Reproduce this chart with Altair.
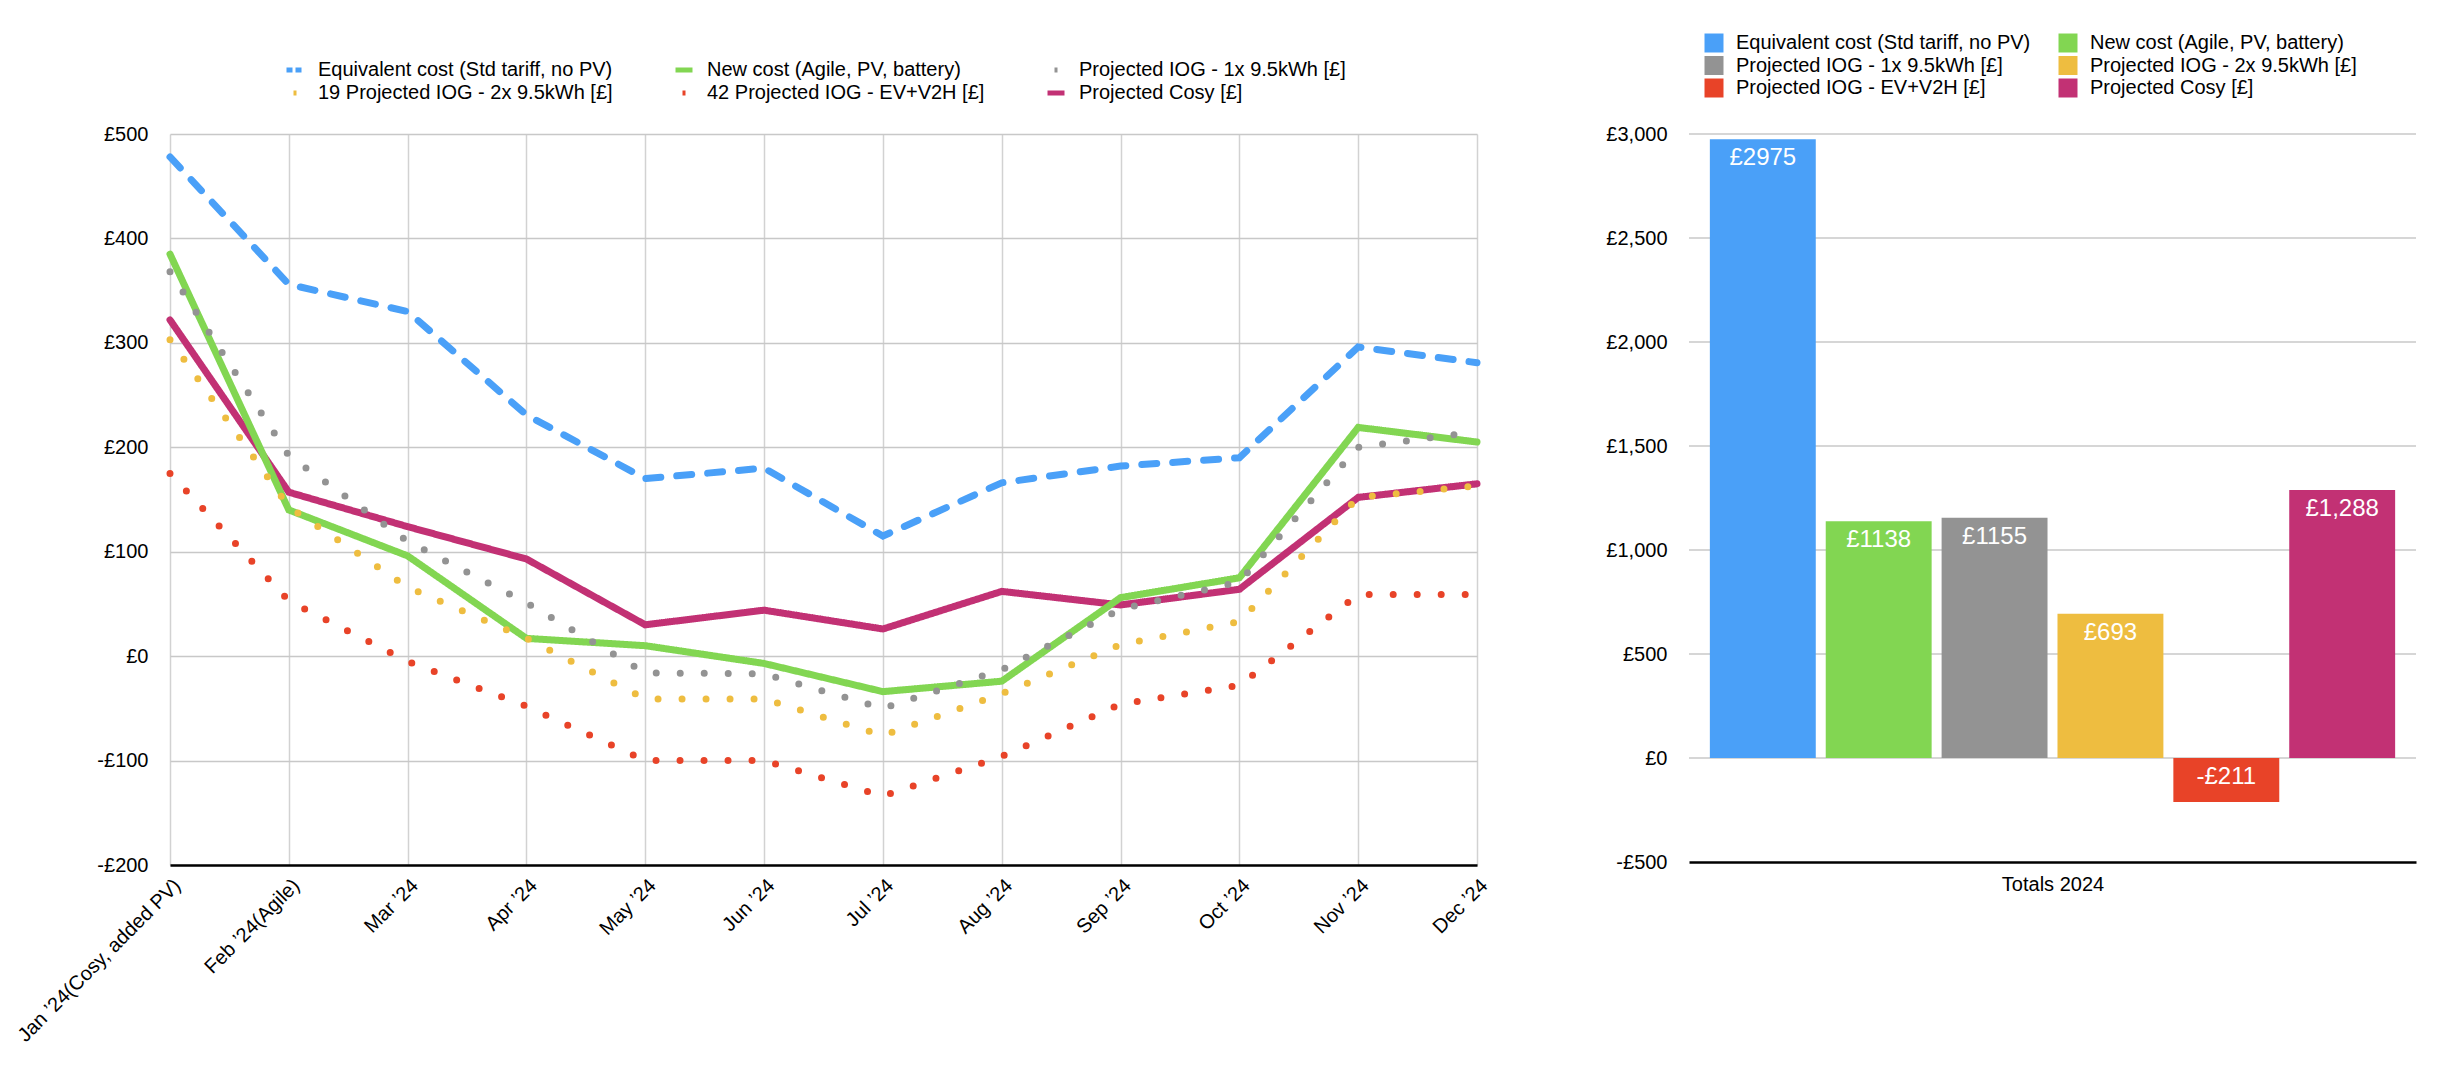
import altair as alt
import pandas as pd

# monthly costs (£)
months = ["Jan ’24(Cosy, added PV)", "Feb ’24(Agile)", "Mar ’24", "Apr ’24", "May ’24", "Jun ’24",
          "Jul ’24", "Aug ’24", "Sep ’24", "Oct ’24", "Nov ’24", "Dec ’24"]
equivalent = [478, 356, 330, 231, 170, 180, 115, 166, 182, 190, 296, 281]
new_cost = [385, 140, 96, 17, 10, -7, -34, -24, 56, 75, 219, 205]
iog_1x = [368, 192, 110, 51, -16, -17, -50, -13, 45, 71, 200, 215]
iog_2x = [303, 143, 66, 17, -41, -41, -76, -36, 11, 33, 152, 163]
iog_ev = [175, 53, -5, -48, -100, -100, -134, -96, -46, -28, 59, 59]
cosy = [322, 157, 124, 93, 30, 44, 26, 62, 49, 64, 152, 165]

line_names = ["Equivalent cost (Std tariff, no PV)", "New cost (Agile, PV, battery)",
              "Projected IOG - 1x 9.5kWh [£]", "19 Projected IOG - 2x 9.5kWh [£]",
              "42 Projected IOG - EV+V2H [£]", "Projected Cosy [£]"]
bar_names = ["Equivalent cost (Std tariff, no PV)", "New cost (Agile, PV, battery)",
             "Projected IOG - 1x 9.5kWh [£]", "Projected IOG - 2x 9.5kWh [£]",
             "Projected IOG - EV+V2H [£]", "Projected Cosy [£]"]
colors = ["#4aa0f8", "#82d652", "#939393", "#eebd40", "#e84328", "#c23174"]
dashes = [[15, 16], [1, 0], [0, 24], [0, 24], [0, 24], [1, 0]]
# legend keys: two short dashes, a solid bar, a single dot
key_dashes = [[6, 3, 6, 60], [1, 0], [0, 7, 3, 60], [0, 7, 3, 60], [0, 7, 3, 60], [1, 0]]

# yearly totals
totals = [2975, 1138, 1155, 693, -211, 1288]
total_labels = ["£2975", "£1138", "£1155", "£693", "-£211", "£1,288"]
bar_ticks = [-500, 0, 500, 1000, 1500, 2000, 2500, 3000]

# legends fill column by column, so list entries in that order
line_legend_order = [0, 3, 1, 4, 2, 5]
bar_legend_order = [0, 2, 4, 1, 3, 5]

FONT = "Liberation Sans"
money = "(datum.value < 0 ? '-£' : '£') + format(abs(datum.value), ',')"

series_values = [equivalent, new_cost, iog_1x, iog_2x, iog_ev, cosy]
draw_order = [0, 5, 1, 2, 3, 4]
rows = []
for i in draw_order:
    for m, v in zip(months, series_values[i]):
        rows.append({"month": m, "series": line_names[i], "cost": v})
df_line = pd.DataFrame(rows)

line_dom = [line_names[i] for i in line_legend_order]
line_col = [colors[i] for i in line_legend_order]

line_legend = alt.Legend(
    title=None, orient="none", legendX=114, legendY=-75, columns=3,
    columnPadding=52, rowPadding=2, padding=0,
    symbolType="stroke", symbolSize=289, symbolStrokeWidth=5,
    labelFont=FONT, labelFontSize=20, labelColor="black", labelLimit=500, labelOffset=12,
)

x_month = alt.X("month:O", sort=months, title=None,
                scale=alt.Scale(type="point", padding=0),
                axis=alt.Axis(labelAngle=-45, labelFontSize=20, labelPadding=10, labelLimit=400,
                              ticks=False, tickSize=0, domainColor="black", domainWidth=2.5,
                              grid=True, gridColor="#d2d2d2", gridWidth=1.5))
y_cost = alt.Y("cost:Q", title=None,
               scale=alt.Scale(domain=[-200, 500], nice=False),
               axis=alt.Axis(values=list(range(-200, 501, 100)), labelExpr=money, labelFontSize=20,
                             labelPadding=22, ticks=False, tickSize=0, domain=False,
                             gridColor="#c8c8c8", gridWidth=1.5))

lines = alt.Chart(df_line).mark_line(strokeWidth=7, strokeCap="round").encode(
    x=x_month,
    y=y_cost,
    stroke=alt.Stroke("series:N", scale=alt.Scale(domain=line_dom, range=line_col), legend=None),
    strokeDash=alt.StrokeDash("series:N",
                              scale=alt.Scale(domain=line_dom,
                                              range=[dashes[i] for i in line_legend_order]),
                              legend=None),
    detail="series:N",
)

# legend carrier: draws nothing, supplies the legend keys
line_key = alt.Chart(df_line).mark_line().encode(
    x=x_month,
    y=y_cost,
    color=alt.Color("series:N", scale=alt.Scale(domain=line_dom, range=line_col), legend=line_legend),
    strokeDash=alt.StrokeDash("series:N",
                              scale=alt.Scale(domain=line_dom,
                                              range=[key_dashes[i] for i in line_legend_order]),
                              legend=line_legend),
).transform_filter("false")

line = alt.layer(lines, line_key).resolve_scale(
    strokeDash="independent", color="independent"
).properties(width=1307, height=731)

df_bar = pd.DataFrame({
    "series": bar_names,
    "total": totals,
    "label": total_labels,
})

bar_legend = alt.Legend(
    title=None, orient="none", legendX=15, legendY=-101, columns=2,
    columnPadding=27, rowPadding=2.5, padding=0,
    symbolType="square", symbolSize=361, symbolStrokeWidth=0,
    labelFont=FONT, labelFontSize=20, labelColor="black", labelLimit=500, labelOffset=12,
)

y_total = alt.Y("total:Q", title=None,
                scale=alt.Scale(domain=[-500, 3000], nice=False),
                axis=alt.Axis(values=bar_ticks, labelExpr=money, labelFontSize=20,
                              labelPadding=22, ticks=False, tickSize=0, domain=False, grid=False))

# horizontal grid across the full panel width
bar_grid = alt.Chart(pd.DataFrame({"total": bar_ticks})).mark_rule(
    color="#c8c8c8", strokeWidth=1.5
).encode(y=y_total).transform_filter("datum.total > -500")

bar_base = alt.Chart(df_bar).encode(
    x=alt.X("series:N", sort=bar_names, title="Totals 2024",
            scale=alt.Scale(paddingInner=0.086, paddingOuter=0.18),
            axis=alt.Axis(labels=False, ticks=False, tickSize=0, domainColor="black",
                          domainWidth=2.5, grid=False, titleFontSize=20, titleFontWeight="normal",
                          titleColor="black", titleFont=FONT, titlePadding=12)),
)

bars = bar_base.mark_bar().encode(
    y=y_total,
    color=alt.Color("series:N",
                    scale=alt.Scale(domain=[bar_names[i] for i in bar_legend_order],
                                    range=[colors[i] for i in bar_legend_order]),
                    legend=bar_legend),
)

bar_text = bar_base.mark_text(color="white", fontSize=24, baseline="top", dy=7, font=FONT).encode(
    y="label_y:Q",
    text="label:N",
).transform_calculate(label_y="max(datum.total, 0)")

bar = alt.layer(bar_grid, bars, bar_text).properties(width=727, height=728)

chart = alt.hconcat(line, bar, spacing=212, bounds="flush").resolve_scale(
    color="independent", stroke="independent", strokeDash="independent",
    x="independent", y="independent"
).properties(
    padding={"left": 5, "top": 25, "right": 5, "bottom": 5}
).configure(
    font=FONT
).configure_view(
    stroke=None
).configure_axis(
    labelColor="black", labelFont=FONT
)

chart.save("out.html", embed_options={"renderer": "svg", "actions": False})
